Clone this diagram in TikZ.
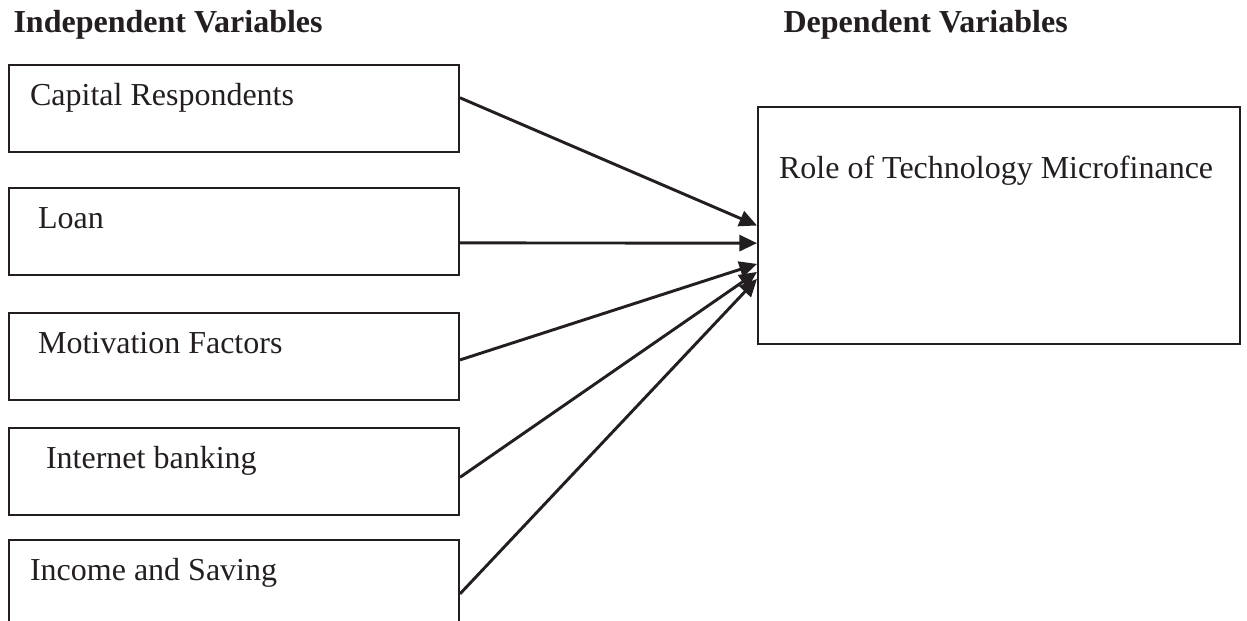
\documentclass[tikz,border=0pt]{standalone}
\usepackage{fontspec}
\setmainfont{Liberation Serif}
\usetikzlibrary{arrows.meta}
\definecolor{inkgray}{RGB}{35,31,32}

\tikzset{
  ivbox/.style={draw, line width=0.75pt, anchor=north west, inner xsep=7.9pt,
    minimum width=168.75pt, minimum height=32.6pt, text width=152.95pt,
    text height=8pt, text depth=10pt, align=flush left},
  dvbox/.style={draw, line width=0.75pt, anchor=north west, inner xsep=7.9pt,
    minimum width=180.75pt, minimum height=88.9pt, text width=164.95pt,
    text height=8pt, text depth=42.9pt, align=flush left},
  heading/.style={anchor=base west, inner sep=0pt, font=\fontsize{12}{14}\selectfont\bfseries},
  link/.style={-{Triangle[length=6.6pt,width=6pt]}, line width=1.1pt}
}

\begin{document}
\begin{tikzpicture}[x=0.375pt, y=-0.375pt, font=\fontsize{12}{14}\selectfont, color=inkgray]
    \useasboundingbox (0,0) rectangle (1247,621);
    \node[heading] (indep) at (13,33) {Independent Variables};
    \node[heading] (dep) at (783,33) {Dependent Variables};
    \node[ivbox] (capital) at (8,64) {Capital Respondents};
    \node[ivbox] (loan) at (8,187) {\hspace*{3pt}Loan};
    \node[ivbox] (motiv) at (8,312) {\hspace*{3pt}Motivation Factors};
    \node[ivbox] (inet) at (8,427) {\hspace*{6pt}Internet banking};
    \node[ivbox] (income) at (8,539) {Income and Saving};
    \node[dvbox] (role) at (757,106) {\mbox{Role of Technology Microfinance}};
    \draw[link] ([yshift=4pt]capital.east) -- (role.west);
    \draw[link] ([yshift=-4.3pt]loan.east) -- ([yshift=-6.6pt]role.west);
    \draw[link] ([yshift=-1.3pt]motiv.east) -- ([yshift=-14.4pt]role.west);
    \draw[link] ([yshift=-2.2pt]inet.east) -- ([yshift=-17.4pt]role.west);
    \draw[link] ([yshift=-3.9pt]income.east) -- ([yshift=-20pt]role.west);
\end{tikzpicture}
\end{document}
